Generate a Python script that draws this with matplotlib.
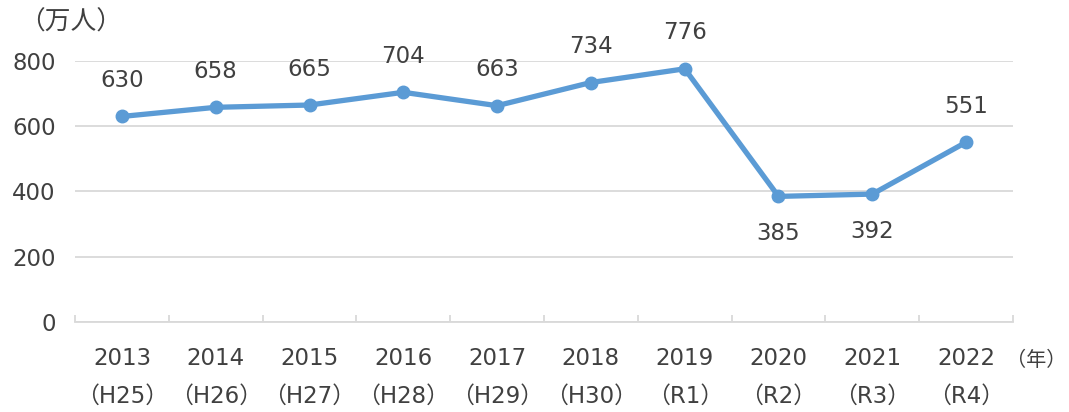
import matplotlib
matplotlib.use('Agg')
import matplotlib.pyplot as plt

plt.rcParams['font.family'] = ['DejaVu Sans', 'Noto Sans CJK JP']

years = ['2013', '2014', '2015', '2016', '2017', '2018', '2019', '2020', '2021', '2022']
eras = ['（H25）', '（H26）', '（H27）', '（H28）', '（H29）', '（H30）', '（R1）', '（R2）', '（R3）', '（R4）']
visitors = [630, 658, 665, 704, 663, 734, 776, 385, 392, 551]
label_below = [False, False, False, False, False, False, False, True, True, False]

line_color = '#5b9bd5'
text_color = '#404040'
fs = 16.5

fig = plt.figure(figsize=(10.69, 4.12), dpi=100)
ax = fig.add_axes([0.0702, 0.2184, 0.8774, 0.6336])

x = list(range(len(years)))
ax.plot(x, visitors, color=line_color, lw=3.8, marker='o', ms=9, zorder=3)

for i, v in enumerate(visitors):
    off = -37 if label_below[i] else 36
    ax.annotate(str(v), (i, v), xytext=(0, off), textcoords='offset pixels',
                ha='center', va='center', fontsize=fs, color=text_color)

ax.set_xlim(-0.5, len(years) - 0.5)
ax.set_ylim(0, 800)
ax.set_yticks([0, 200, 400, 600, 800])
ax.yaxis.grid(True, color='#d9d9d9', lw=1.3)
ax.set_axisbelow(True)
for s in ['top', 'right', 'left']:
    ax.spines[s].set_visible(False)
ax.spines['bottom'].set_color('#d9d9d9')
ax.spines['bottom'].set_linewidth(1.3)

# category boundary ticks
ax.set_xticks([i - 0.5 for i in range(len(years) + 1)])
ax.set_xticklabels([])
ax.tick_params(axis='x', direction='in', length=5, color='#d9d9d9', width=1.3)
ax.set_xticks(x, minor=True)
ax.set_xticklabels([f'{y}\n{e}' for y, e in zip(years, eras)], minor=True,
                   fontsize=fs, color=text_color, linespacing=1.8)
ax.tick_params(axis='x', which='minor', length=0, pad=18)
ax.tick_params(axis='y', length=0, labelsize=fs, labelcolor=text_color, pad=14)

fig.text(0.0665, 0.945, '（万人）', fontsize=18.5, color=text_color, ha='center', va='center')
fig.text(0.969, 0.125, '（年）', fontsize=14.5, color=text_color, ha='center', va='center')

fig.savefig('out.png', dpi=100)
